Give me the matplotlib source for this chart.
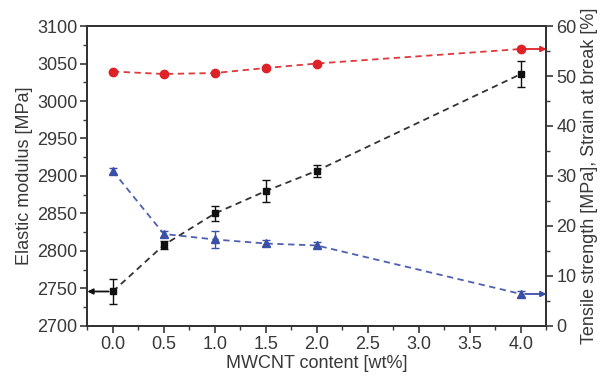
import matplotlib
matplotlib.use('Agg')
import matplotlib.pyplot as plt
from matplotlib.ticker import MultipleLocator

# MWCNT content [wt%]
content = [0.0, 0.5, 1.0, 1.5, 2.0, 4.0]
# elastic modulus [MPa] (left axis)
modulus = [2746, 2808, 2850, 2880, 2907, 3036]
modulus_err = [17, 5, 10, 15, 8, 17]
# strain at break [%] (right axis)
strain = [50.9, 50.4, 50.6, 51.6, 52.5, 55.4]
# tensile strength [MPa] (right axis)
tensile = [31.0, 18.4, 17.3, 16.5, 16.1, 6.4]
tensile_err = [0.6, 0.6, 1.7, 0.6, 0.6, 0.6]

plt.rcParams['font.family'] = ['Liberation Sans', 'DejaVu Sans']
plt.rcParams['font.size'] = 13
plt.rcParams['text.color'] = '#383838'
plt.rcParams['axes.labelcolor'] = '#383838'
plt.rcParams['xtick.color'] = '#383838'
plt.rcParams['ytick.color'] = '#383838'

BLACK = '#111111'
RED = '#dd2228'
BLUE = '#3a50a8'
DASH = (0, (3.5, 2.5))

fig = plt.figure(figsize=(6.05, 3.78), dpi=100)
ax = fig.add_axes([0.1443, 0.1376, 0.759, 0.7936])
ax2 = ax.twinx()

# left axis: elastic modulus
ax.plot(content, modulus, ls=DASH, color='#333333', lw=1.3, zorder=2)
ax.errorbar(content, modulus, yerr=modulus_err, fmt='s', color=BLACK,
            ms=5, capsize=3, elinewidth=1.0, capthick=1.0, zorder=3)

# right axis: strain at break and tensile strength
ax2.plot(content, strain, ls=DASH, color=RED, lw=1.3, alpha=0.9)
ax2.plot(content, strain, 'o', color=RED, ms=6)
ax2.plot(content, tensile, ls=DASH, color=BLUE, lw=1.3, alpha=0.9)
ax2.errorbar(content, tensile, yerr=tensile_err, fmt='^', color=BLUE,
             ms=6, capsize=3, elinewidth=1.0, capthick=1.0)

ax.set_xlim(-0.25, 4.25)
ax.set_ylim(2700, 3100)
ax2.set_ylim(0, 60)

# arrows showing which axis each series belongs to
arrow = dict(arrowstyle='-|>', lw=1.3, mutation_scale=8, shrinkA=3, shrinkB=0)
ax.annotate('', xy=(ax.get_xlim()[0], modulus[0]), xytext=(content[0], modulus[0]),
            arrowprops=dict(arrow, color=BLACK), annotation_clip=False)
ax2.annotate('', xy=(ax.get_xlim()[1], strain[-1]), xytext=(content[-1], strain[-1]),
             arrowprops=dict(arrow, color=RED), annotation_clip=False)
ax2.annotate('', xy=(ax.get_xlim()[1], tensile[-1]), xytext=(content[-1], tensile[-1]),
             arrowprops=dict(arrow, color=BLUE), annotation_clip=False)

ax.xaxis.set_major_locator(MultipleLocator(0.5))
ax.xaxis.set_minor_locator(MultipleLocator(0.25))
ax.yaxis.set_major_locator(MultipleLocator(50))
ax.yaxis.set_minor_locator(MultipleLocator(25))
ax2.yaxis.set_major_locator(MultipleLocator(10))
ax2.yaxis.set_minor_locator(MultipleLocator(5))
ax.xaxis.set_major_formatter('{x:.1f}')

for a in (ax, ax2):
    a.tick_params(which='major', direction='out', length=5, width=1.2, pad=2)
    a.tick_params(which='minor', direction='out', length=3, width=1.0)
    for s in a.spines.values():
        s.set_linewidth(1.4)
        s.set_color('#333333')

ax.set_xlabel('MWCNT content [wt%]', labelpad=2)
ax.set_ylabel('Elastic modulus [MPa]', labelpad=3)
ax2.set_ylabel('Tensile strength [MPa], Strain at break [%]', labelpad=3)

fig.savefig('out.png', dpi=100)
